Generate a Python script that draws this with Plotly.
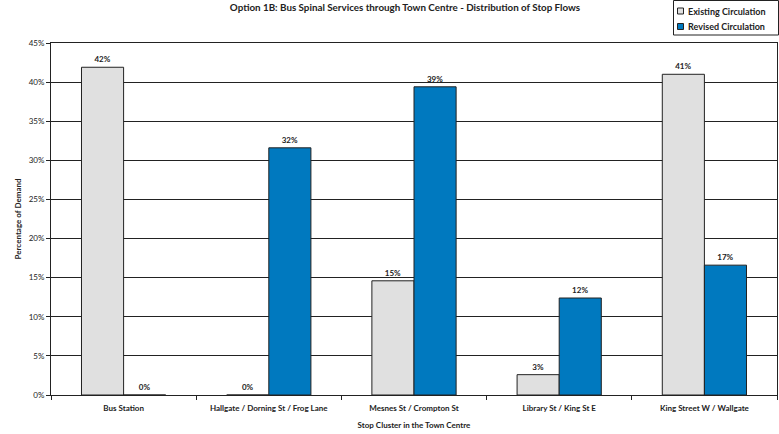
import plotly.graph_objects as go

categories = ["Bus Station", "Hallgate / Dorning St / Frog Lane", "Mesnes St / Crompton St",
              "Library St / King St E", "King Street W / Wallgate"]
existing = [0.419, 0.0, 0.146, 0.026, 0.410]
revised = [0.0, 0.316, 0.394, 0.124, 0.166]
series_names = ["Existing Circulation", "Revised Circulation"]
series_colors = ["#E0E0E0", "#0079BF"]
y_ticks = [0, 0.05, 0.10, 0.15, 0.20, 0.25, 0.30, 0.35, 0.40, 0.45]

FONT = "Lato, 'Open Sans', sans-serif"
INK = "#222222"
W, H = 779, 434
ML, MT, MR = 51, 43, 2
MB = H - 395
PW, PH = W - ML - MR, H - MT - MB


def px_to_paper_x(px):
    return (px - ML) / PW


def px_to_paper_y(py):
    return (H - MB - py) / PH


fig = go.Figure()
for name, vals, col in zip(series_names, [existing, revised], series_colors):
    fig.add_trace(go.Bar(
        x=categories, y=vals, name=name,
        marker=dict(color=col, line=dict(color=INK, width=1)),
        texttemplate="<b>%{y:.0%}</b>", textposition="outside",
        textfont=dict(size=8, color=INK, family=FONT), cliponaxis=False,
        showlegend=False,
    ))

# compact legend (box + swatches + labels)
shapes = [dict(type="rect", xref="paper", yref="paper",
               x0=px_to_paper_x(673.5), x1=px_to_paper_x(778.5),
               y0=px_to_paper_y(35), y1=px_to_paper_y(0.5),
               line=dict(color=INK, width=1), fillcolor="white", layer="above")]
annotations = []
for i, (name, col) in enumerate(zip(series_names, series_colors)):
    cy = 11 + i * 15.5
    shapes.append(dict(type="rect", xref="paper", yref="paper",
                       x0=px_to_paper_x(677.5), x1=px_to_paper_x(683.5),
                       y0=px_to_paper_y(cy + 3), y1=px_to_paper_y(cy - 3),
                       line=dict(color=INK, width=1), fillcolor=col, layer="above"))
    annotations.append(dict(xref="paper", yref="paper", x=px_to_paper_x(686), y=px_to_paper_y(cy),
                            xanchor="left", yanchor="middle", showarrow=False,
                            text=f"<b>{name}</b>", font=dict(size=9, family=FONT, color=INK)))

fig.update_layout(
    width=W, height=H,
    margin=dict(l=ML, r=MR, t=MT, b=MB),
    paper_bgcolor="white", plot_bgcolor="white",
    barmode="group", bargap=0.42, bargroupgap=0,
    font=dict(family=FONT, size=9, color=INK),
    title=dict(text="<b>Option 1B: Bus Spinal Services through Town Centre - Distribution of Stop Flows</b>",
               x=405 / W, xanchor="center", y=1 - 4 / H, yanchor="top", yref="container",
               font=dict(size=9.8, family=FONT, color=INK)),
    shapes=shapes, annotations=annotations,
)
fig.update_xaxes(
    type="category", showline=True, linecolor=INK, linewidth=1, mirror=True,
    ticks="outside", tickson="boundaries", ticklen=4, tickcolor=INK, tickangle=0,
    ticklabelstandoff=5,
    tickfont=dict(size=8, family=FONT, color=INK),
    tickprefix="<b>", ticksuffix="</b>",
    title=dict(text="<b>Stop Cluster in the Town Centre</b>", font=dict(size=8, family=FONT), standoff=10),
)
fig.update_yaxes(
    range=[0, 0.45], tickvals=y_ticks, tickformat=".0%",
    showline=True, linecolor=INK, linewidth=1, mirror=True,
    showgrid=True, gridcolor=INK, gridwidth=1,
    ticks="outside", ticklen=4, tickcolor=INK,
    tickfont=dict(size=8, family=FONT, color=INK),
    tickprefix="<b>", ticksuffix="</b>",
    title=dict(text="<b>Percentage of Demand</b>", font=dict(size=8, family=FONT), standoff=5),
    zeroline=False,
)

fig.write_html("out.html", config={"displayModeBar": False},
               post_script="document.body.style.margin='0';")
